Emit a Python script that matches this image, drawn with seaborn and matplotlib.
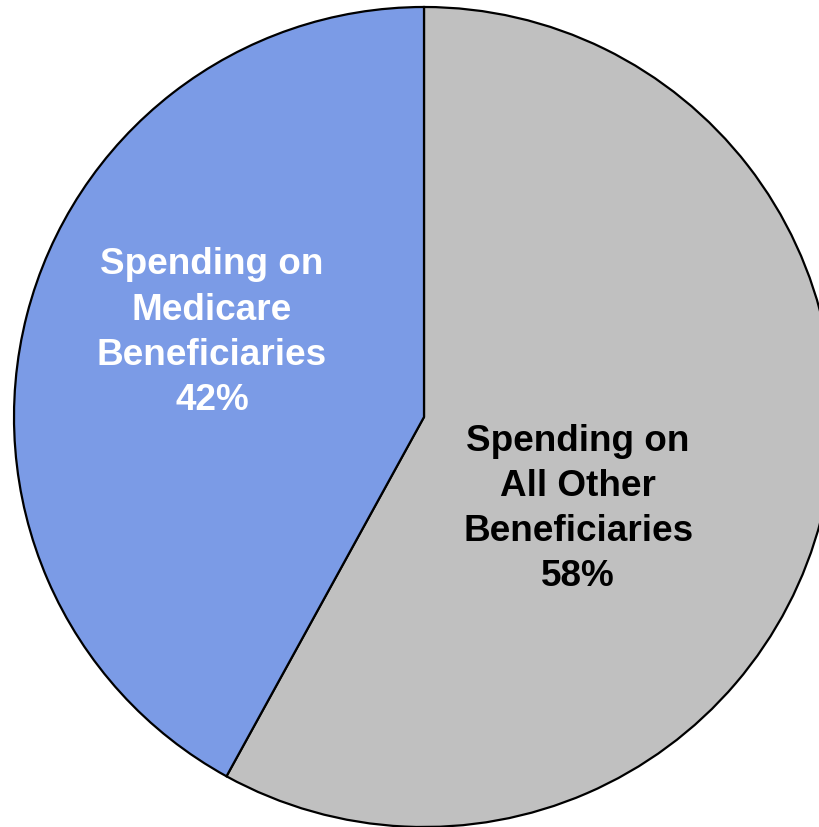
import matplotlib
matplotlib.use("Agg")
import matplotlib.pyplot as plt
import seaborn as sns

labels = ["Spending on\nAll Other\nBeneficiaries\n58%", "Spending on\nMedicare\nBeneficiaries\n42%"]
values = [58, 42]
colors = ["#C0C0C0", "#7B9BE6"]
text_colors = ["black", "white"]
label_pos = [(0.376, -0.222), (-0.517, 0.208)]

sns.set_style("white")
plt.rcParams['font.family'] = ['Liberation Sans', 'DejaVu Sans']

fig = plt.figure(figsize=(8.19, 8.28), dpi=100)
ax = fig.add_axes([0, 0, 1, 1])
ax.pie(values, colors=colors, startangle=90, counterclock=False, radius=1.0,
       wedgeprops=dict(edgecolor="black", linewidth=1.6))
ax.set_xlim(-424/410, (819-424)/410)
ax.set_ylim(-(828-418)/410, 418/410)
ax.set_aspect('auto')
ax.axis('off')
for lab, (x, y), c in zip(labels, label_pos, text_colors):
    ax.text(x, y, lab, ha='center', va='center', color=c, fontsize=26.6,
            fontweight='bold', linespacing=1.38)
fig.savefig("out.png", dpi=100)
